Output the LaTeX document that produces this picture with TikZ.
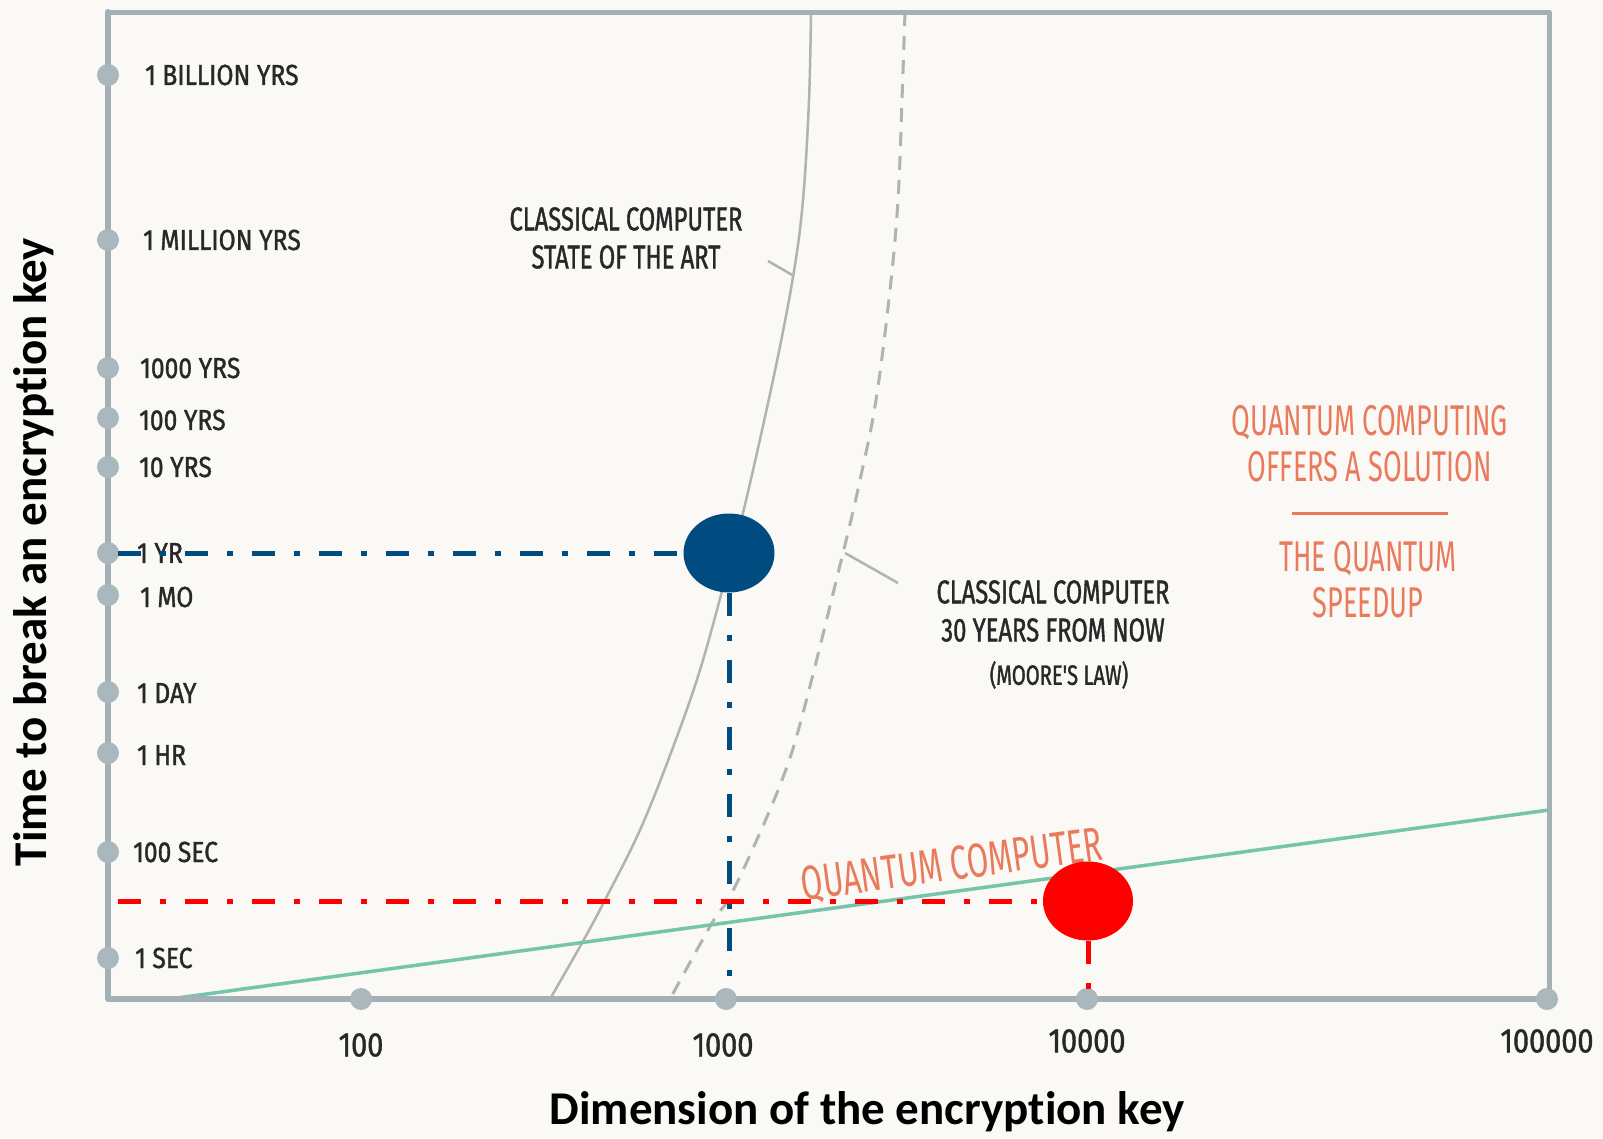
\documentclass[tikz,border=0pt]{standalone}
\usepackage{fontspec}
\setmainfont{Carlito}[Ligatures=NoCommon]
\newfontfamily\handA[FakeStretch=0.85,FakeBold=1.2]{Fira Sans}
\newfontfamily\handB[FakeStretch=0.72,FakeBold=1.2]{Fira Sans}
\newfontfamily\handC[FakeStretch=0.63]{Fira Sans}
\newfontfamily\handD[FakeStretch=0.65]{Fira Sans}
\usetikzlibrary{shapes.geometric}
\definecolor{bgc}{RGB}{250,249,246}
\definecolor{axisc}{RGB}{163,177,182}
\definecolor{dotc}{RGB}{170,184,189}
\definecolor{curvec}{RGB}{178,178,176}
\definecolor{greenc}{RGB}{118,196,172}
\definecolor{salmon}{RGB}{234,122,92}
\definecolor{inkc}{RGB}{40,40,40}
\definecolor{bluec}{RGB}{0,76,128}
\definecolor{redc}{RGB}{255,0,0}
\begin{document}
\begin{tikzpicture}[x=1pt,y=-1pt,
 tickdot/.style={circle,fill=dotc,inner sep=0,minimum size=22pt},
 ylab/.style={anchor=west,inner sep=0,text=inkc,font=\handA\fontsize{29}{30}\selectfont},
 xlab/.style={inner sep=0,text=inkc,font=\handA\fontsize{34}{36}\selectfont},
 note/.style={inner sep=0,text=inkc,font=\handB\fontsize{33}{38}\selectfont,align=center},
 qnote/.style={inner sep=0,text=salmon,font=\handC\fontsize{43}{46}\selectfont,align=center},
 titlelab/.style={inner sep=0,text=black,font=\bfseries\fontsize{47}{50}\selectfont},
 dashdot/.style={line width=5pt,dash pattern=on 23pt off 19pt on 6pt off 19pt},
 axisline/.style={axisc,line width=6pt,line cap=round,line join=round},
 leader/.style={curvec,line width=2.5pt},
]
\useasboundingbox (0,0) rectangle (1603,1138);
\fill[bgc] (0,0) rectangle (1603,1138);

% classical curve (state of the art)
\draw[curvec,line width=2.5pt] plot[smooth,tension=0.6] coordinates {(811,12) (809,100) (803,200) (793,277) (773,380) (743,513) (725,580) (700,670) (672,750) (640,830) (605,900) (582,943) (550,999)};
% Moore's law curve
\draw[curvec,line width=3pt,dash pattern=on 14pt off 10pt] plot[smooth,tension=0.6] coordinates {(905,12) (902,100) (898,200) (890,290) (876,400) (860,480) (843,553) (803,713) (782,780) (750,855) (728,900) (712,923) (670,999)};
% leader ticks
\coordinate (la1) at (768,261); \coordinate (lb1) at (794,276);
\coordinate (la2) at (845,553); \coordinate (lb2) at (898,583);
\draw[leader] (la1) -- (lb1);
\draw[leader] (la2) -- (lb2);
% quantum line
\coordinate (g1) at (170,999); \coordinate (g2) at (1549,810);
\draw[greenc,line width=3.5pt] (g1) -- (g2);

% frame / axes
\coordinate (c1) at (108,12); \coordinate (c2) at (1549,12);
\coordinate (c3) at (1549,999); \coordinate (c4) at (108,999);
\draw[axisline,line width=5pt] (c1) -- (c2) -- (c3);
\draw[axisline] (c1) -- (c4) -- (c3);

% y ticks
\foreach \n/\yy in {1/75,2/240,3/368,4/418,5/467,6/553,7/595,8/692,9/753,10/852,11/958}{
  \node[tickdot] (ty\n) at (108,\yy) {};
}
% x ticks
\foreach \n/\xx in {1/361,2/726,3/1087,4/1547}{
  \node[tickdot] (tx\n) at (\xx,999) {};
}

% y labels
\node[ylab] (yl1) at (145,75) {1 BILLION YRS};
\node[ylab] (yl2) at (143,240) {1 MILLION YRS};
\node[ylab] (yl3) at (140,368) {1000 YRS};
\node[ylab] (yl4) at (139,420) {100 YRS};
\node[ylab] (yl5) at (139,467) {10 YRS};
\node[ylab] (yl6) at (137,553) {1 YR};
\node[ylab] (yl7) at (140,597) {1 MO};
\node[ylab] (yl8) at (137,693) {1 DAY};
\node[ylab] (yl9) at (137,755) {1 HR};
\node[ylab] (yl10) at (133,852) {100 SEC};
\node[ylab] (yl11) at (135,958) {1 SEC};

% x labels
\node[xlab] (xl1) at (361,1045) {100};
\node[xlab] (xl2) at (723,1045) {1000};
\node[xlab] (xl3) at (1087,1041) {10000};
\node[xlab] (xl4) at (1547,1041) {100000};

% titles
\node[titlelab] (xt) at (867,1112) {Dimension of the encryption key};
\node[titlelab,rotate=90] (yt) at (34,552) {Time to break an encryption key};

% notes
\node[note] (n1) at (626,238) {CLASSICAL COMPUTER\\STATE OF THE ART};
\node[note] (n2) at (1053,611) {CLASSICAL COMPUTER\\30 YEARS FROM NOW};
\node[note,font=\handB\fontsize{28}{30}\selectfont] (n3) at (1059,675) {(MOORE'S LAW)};
\node[qnote] (q1) at (1370,444) {QUANTUM COMPUTING\\OFFERS A SOLUTION};
\coordinate (s1) at (1292,513); \coordinate (s2) at (1448,513);
\draw[salmon,line width=3pt] (s1) -- (s2);
\node[qnote] (q2) at (1368,580) {THE QUANTUM\\SPEEDUP};
\node[qnote,font=\handD\fontsize{48}{50}\selectfont,rotate=7.8] (qc) at (952,866) {QUANTUM COMPUTER};

% highlighted points
\node[ellipse,fill=bluec,inner sep=0,minimum width=91pt,minimum height=79pt] (bdot) at (729,553) {};
\node[ellipse,fill=redc,inner sep=0,minimum width=90pt,minimum height=79pt] (rdot) at (1088,901) {};
\coordinate (bl) at (118,553); \coordinate (bb) at (729,994);
\coordinate (rl) at (118,901); \coordinate (rb) at (1088,994);
\draw[dashdot,bluec] (bl) -- (bdot.west);
\draw[dashdot,bluec] (bdot.south) -- (bb);
\draw[dashdot,redc] (rl) -- (rdot.west);
\draw[dashdot,redc] (rdot.south) -- (rb);
\end{tikzpicture}
\end{document}
